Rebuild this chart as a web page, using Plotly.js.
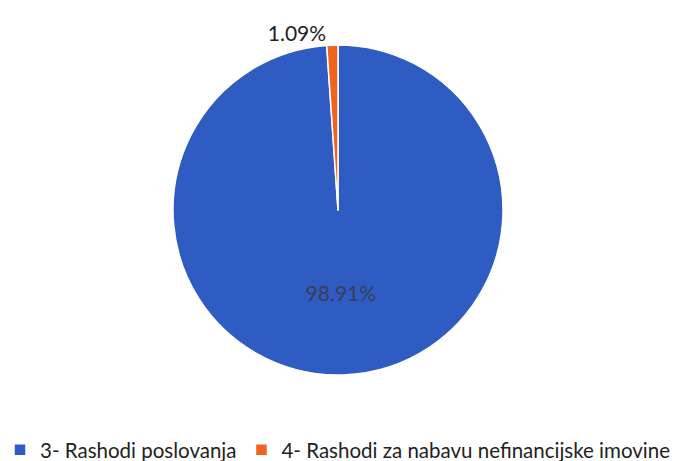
<!DOCTYPE html>
<html>
<head>
<meta charset="utf-8">
<script src="https://cdn.plot.ly/plotly-3.0.1.min.js"></script>
<style>html,body{margin:0;padding:0;background:#fff;}#chart{width:679px;height:461px;}</style>
</head>
<body>
<div id="chart"></div>
<script>
const categories = ["3- Rashodi poslovanja", "4- Rashodi za nabavu nefinancijske imovine"];
const values = [98.91, 1.09];
const sliceColors = ["#2F5CC2", "#F0641E"];
const labelPositions = ["inside", "outside"];
const labelColors = ["#3a3f55", "#222222"];

const trace = {
  type: "pie",
  labels: categories,
  values: values,
  sort: false,
  direction: "clockwise",
  rotation: 0,
  marker: {colors: sliceColors, line: {color: "#ffffff", width: 1.5}},
  texttemplate: values.map(v => v.toFixed(2) + "%"),
  textinfo: "text",
  textposition: labelPositions,
  insidetextorientation: "horizontal",
  textfont: {family: "Lato, 'Open Sans', sans-serif", size: 21, color: labelColors},
  outsidetextfont: {family: "Lato, 'Open Sans', sans-serif", size: 21, color: "#222222"},
  hoverinfo: "none",
  domain: {x: [0, 0.9956], y: [0, 1]}
};

const layout = {
  width: 679, height: 461,
  margin: {l: 0, r: 0, t: 45, b: 86, autoexpand: false},
  paper_bgcolor: "#ffffff",
  showlegend: true,
  legend: {
    orientation: "h", x: 0.0, xanchor: "left", y: -0.227, yanchor: "middle",
    font: {family: "Lato, 'Open Sans', sans-serif", size: 20.5, color: "#222222"},
    itemwidth: 30, traceorder: "normal"
  }
};

Plotly.newPlot("chart", [trace], layout, {displayModeBar: false, staticPlot: true});
</script>
</body>
</html>
